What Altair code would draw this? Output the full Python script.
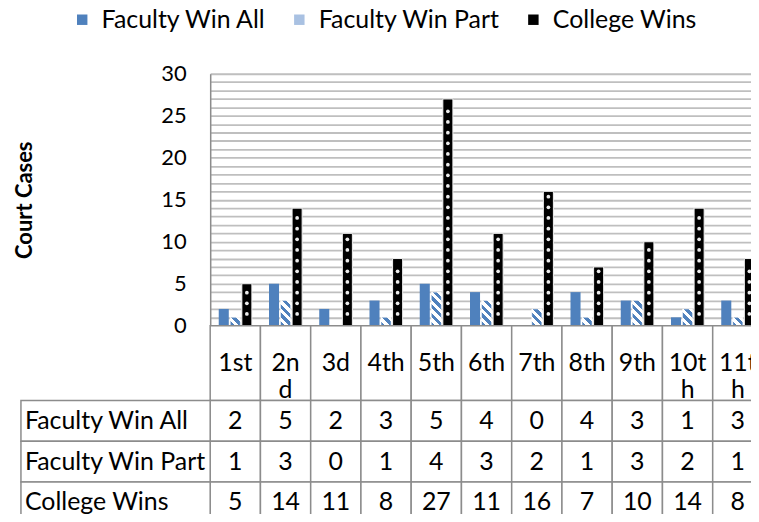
import altair as alt
import pandas as pd

# ---------------- data ----------------
categories = ["1st", "2nd", "3d", "4th", "5th", "6th", "7th", "8th", "9th", "10th", "11th"]
header_labels = ["1st", "2n\nd", "3d", "4th", "5th", "6th", "7th", "8th", "9th", "10t\nh", "11t\nh"]
series = ["Faculty Win All", "Faculty Win Part", "College Wins"]
faculty_win_all = [2, 5, 2, 3, 5, 4, 0, 4, 3, 1, 3]
faculty_win_part = [1, 3, 0, 1, 4, 3, 2, 1, 3, 2, 1]
college_wins = [5, 14, 11, 8, 27, 11, 16, 7, 10, 14, 8]
y_labels = [0, 5, 10, 15, 20, 25, 30]
y_title = "Court Cases"

values = {"Faculty Win All": faculty_win_all,
          "Faculty Win Part": faculty_win_part,
          "College Wins": college_wins}
rows = []
for s in series:
    for c, v in zip(categories, values[s]):
        rows.append({"category": c, "series": s, "value": v})
df = pd.DataFrame(rows)
df_header = pd.DataFrame({"category": categories, "label": header_labels})
df_rows = pd.DataFrame({"series": series})

# ---------------- style ----------------
FONT = "Lato"
FS = 25
BLUE = "#4f81bd"
GRID = "#bfbfbf"
LINE = "#8c8c8c"
PLOT_W = 555
PLOT_H = 253
HEADER_H = 75
ROW_H = 41
Y_MAX = 30
PAD_IN, PAD_OUT = 0.13, 0.74

step_cat = PLOT_W / len(categories)
sub_step = step_cat / (len(series) - PAD_IN + 2 * PAD_OUT)
bar_w = sub_step * (1 - PAD_IN)
px_per_unit = PLOT_H / Y_MAX

x_enc = alt.X("category:N", sort=categories,
              scale=alt.Scale(domain=categories, paddingInner=0, paddingOuter=0),
              axis=None)
xo_enc = alt.XOffset("series:N", sort=series,
                     scale=alt.Scale(domain=series, paddingInner=PAD_IN, paddingOuter=PAD_OUT))
y_enc = alt.Y("value:Q",
              scale=alt.Scale(domain=[0, Y_MAX], nice=False),
              axis=alt.Axis(values=list(range(0, Y_MAX + 1)),
                            labelExpr="indexof(%s, datum.value) >= 0 ? datum.label : ''" % str(y_labels),
                            grid=True, gridColor=GRID, gridWidth=1.8,
                            ticks=False, domainColor=LINE, domainWidth=1.5,
                            labelFont=FONT, labelFontSize=22, labelColor="#000000",
                            labelPadding=24,
                            title=y_title, titleFont=FONT, titleFontSize=22,
                            titleFontWeight="bold", titleColor="#000000",
                            titlePadding=125))

base = alt.Chart(df)

blue_bars = base.mark_bar().encode(
    x=x_enc, xOffset=xo_enc, y=y_enc,
    color=alt.Color("series:N",
                    scale=alt.Scale(domain=series, range=[BLUE, "#a9c1e2", "#000000"]),
                    legend=alt.Legend(title=None, orient="none", direction="horizontal",
                                      legendX=-141, legendY=-67, padding=0,
                                      symbolType="square", symbolSize=110,
                                      symbolStrokeWidth=0, labelFont=FONT,
                                      labelFontSize=FS, labelColor="#000000",
                                      labelLimit=400,
                                      labelOffset=7, columnPadding=20)),
).transform_filter(alt.datum.series == "Faculty Win All")


def hatch(v):
    w = bar_w
    h = v * px_per_unit
    k = (w + h) / (w * w + h * h)
    period = 6.5
    n = max(1, round((w + h) / (2 ** 0.5) / period))
    stops = []
    for i in range(n):
        a, b, c = i / n, (i + 0.5) / n, (i + 1) / n
        stops += [{"offset": a, "color": BLUE}, {"offset": b, "color": BLUE},
                  {"offset": b, "color": "#ffffff"}, {"offset": c, "color": "#ffffff"}]
    return {"gradient": "linear", "x1": 0, "y1": 1, "x2": w * k, "y2": 1 - h * k,
            "stops": stops}


hatch_layers = []
for v in sorted(set(x for x in faculty_win_part if x > 0)):
    hatch_layers.append(
        base.mark_bar(fill=hatch(v), stroke="#ffffff", strokeWidth=0.5).encode(
            x=x_enc, xOffset=xo_enc, y=y_enc
        ).transform_filter((alt.datum.series == "Faculty Win Part") & (alt.datum.value == v))
    )

black_bars = base.mark_bar(fill="#000000", stroke="#f2f2f2", strokeWidth=1).encode(
    x=x_enc, xOffset=xo_enc, y=y_enc
).transform_filter(alt.datum.series == "College Wins")

# white dots of the dotted pattern, on a fixed pattern grid
DOT_START, DOT_STEP = 26.8, 1.27
dots = []
for c, v in zip(categories, college_wins):
    u = DOT_START
    while u > 0.3:
        if u < v - 0.25:
            dots.append({"category": c, "series": "College Wins", "value": u})
        u -= DOT_STEP
df_dots = pd.DataFrame(dots)
dot_layer = alt.Chart(df_dots).mark_point(filled=True, shape="circle", size=14,
                                          color="#ececec", opacity=1).encode(
    x=x_enc, xOffset=xo_enc, y=y_enc
)

top = alt.layer(blue_bars, *hatch_layers, black_bars, dot_layer).properties(
    width=PLOT_W, height=PLOT_H)

# ---------------- header row (category names) ----------------
x_tab = alt.X("category:N", sort=categories,
              scale=alt.Scale(domain=categories, paddingInner=0, paddingOuter=0),
              axis=None)
header_cells = alt.Chart(df_header).mark_rect(fill="#ffffff", stroke=LINE, strokeWidth=1.5).encode(
    x=x_tab)
header_text = alt.Chart(df_header).mark_text(font=FONT, fontSize=FS, lineBreak="\n",
                                             lineHeight=27, baseline="middle",
                                             color="#000000").encode(
    x=x_tab, y=alt.value(HEADER_H / 2), text="label:N")
header = alt.layer(header_cells, header_text).properties(width=PLOT_W, height=HEADER_H)

# ---------------- data table ----------------
y_tab = alt.Y("series:N", sort=series,
              scale=alt.Scale(domain=series, paddingInner=0, paddingOuter=0), axis=None)
cells = alt.Chart(df).mark_rect(fill="#ffffff", stroke=LINE, strokeWidth=1.5).encode(
    x=x_tab, y=y_tab)
cell_text = alt.Chart(df).mark_text(font=FONT, fontSize=FS, baseline="middle",
                                    color="#000000").encode(
    x=x_tab, y=y_tab, text="value:Q")
label_cells = alt.Chart(df_rows).mark_rect(fill="#ffffff", stroke=LINE, strokeWidth=1.5).encode(
    x=alt.value(-190), x2=alt.value(0), y=y_tab)
label_text = alt.Chart(df_rows).mark_text(font=FONT, fontSize=FS, baseline="middle",
                                          align="left", color="#000000").encode(
    x=alt.value(-186), y=y_tab, text="series:N")
table = alt.layer(cells, label_cells, cell_text, label_text).properties(
    width=PLOT_W, height=ROW_H * len(series))

# the reference is cropped at the right and bottom edges: negative padding
# crops the drawing the same way so the page fits the window
chart = alt.vconcat(top, header, table, spacing=0, bounds="flush").properties(
    padding={"left": 4, "top": -2, "right": -14, "bottom": -12}
).configure_view(stroke=None).configure(background="#ffffff")

chart.save("out.html", embed_options={"renderer": "svg", "actions": False})
